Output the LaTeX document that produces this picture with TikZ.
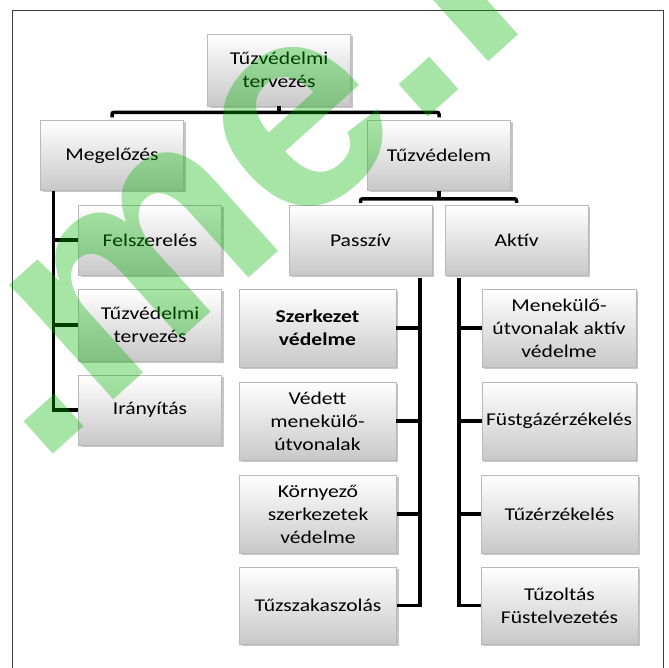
\documentclass[tikz,border=0pt]{standalone}
\usepackage{fontspec}
\setmainfont{Carlito}[FakeStretch=1.2]
\newfontfamily\wmfont{Liberation Sans}
\usetikzlibrary{positioning, shadows}
\definecolor{framegray}{RGB}{60,60,60}
\definecolor{boxline}{RGB}{185,185,185}
\definecolor{boxbottom}{RGB}{200,200,200}
\definecolor{wmgreen}{RGB}{0,180,0}

\begin{document}
\begin{tikzpicture}[x=1pt, y=-1pt,
    every node/.style={font=\fontsize{18}{23}\selectfont, align=center, inner sep=0pt},
    box/.style={rectangle, draw=boxline, top color=white, bottom color=boxbottom,
      drop shadow={shadow xshift=2pt, shadow yshift=-2pt, opacity=0.45}},
    upbox/.style={box, minimum width=143pt, minimum height=70pt},
    lowbox/.style={box, minimum width=157pt, minimum height=78pt},
    conn/.style={line width=3.5pt, black}]
    \useasboundingbox (0,0) rectangle (668,668);
    \draw[framegray, line width=1pt] (12,11) rectangle (663,700);

    % first two levels
    \node[upbox, minimum height=72pt] (tervez) at (279, 70) {Tűzvédelmi\\tervezés};
    \node[upbox] (megel) at (112, 155.5) {Megelőzés};
    \node[upbox] (tuzved) at (439, 155.5) {Tűzvédelem};
    \node[upbox] (passziv) at (360.5, 240) {Passzív};
    \node[upbox] (aktiv) at (516.5, 240) {Aktív};

    % Megelőzés branch
    \node[upbox] (felsz) at (150, 240) {Felszerelés};
    \node[upbox, minimum height=72pt] (tervez2) at (150, 325) {Tűzvédelmi\\tervezés};
    \node[upbox] (iranyit) at (150, 410) {Irányítás};

    % Passzív branch
    \node[lowbox] (szerk) at (317.5, 328) {\bfseries Szerkezet\\\bfseries védelme};
    \node[lowbox] (vedett) at (317.5, 421) {Védett\\menekülő-\\útvonalak};
    \node[lowbox] (kornyezo) at (318, 514) {Környező\\szerkezetek\\védelme};
    \node[lowbox, minimum height=77pt] (tuzszak) at (318, 605.5) {Tűzszakaszolás};

    % Aktív branch
    \node[lowbox, minimum width=154pt] (menek) at (559, 328) {Menekülő-\\útvonalak aktív\\védelme};
    \node[lowbox, minimum width=154pt] (fustgaz) at (559, 421) {Füstgázérzékelés};
    \node[lowbox] (tuzerz) at (559.5, 514) {Tűzérzékelés};
    \node[lowbox, minimum height=77pt] (tuzolt) at (559.5, 605.5) {Tűzoltás\\Füstelvezetés};

    % brackets
    \coordinate (b1) at ([yshift=8pt]megel.north);
    \draw[conn, rounded corners=2pt] ([yshift=3pt]megel.north) -- (b1) -| ([yshift=3pt]tuzved.north);
    \draw[conn] (tervez.south) -- (tervez.south |- b1);
    \coordinate (b2) at ([yshift=6pt]passziv.north);
    \draw[conn, rounded corners=2pt] ([yshift=2pt]passziv.north) -- (b2) -| ([yshift=2pt]aktiv.north);
    \draw[conn] (tuzved.south) -- (tuzved.south |- b2);

    % side trees
    \coordinate (ltop) at ([xshift=13pt]megel.south west);
    \draw[conn] (ltop) |- (iranyit.west);
    \draw[conn] (ltop |- felsz.west) -- (felsz.west);
    \draw[conn] (ltop |- tervez2.west) -- (tervez2.west);

    \coordinate (ptop) at ([xshift=-12pt, yshift=-3pt]passziv.south east);
    \draw[conn] (ptop) |- (tuzszak.east);
    \foreach \n in {szerk, vedett, kornyezo}
      \draw[conn] (ptop |- \n.east) -- (\n.east);

    \coordinate (atop) at ([xshift=14pt, yshift=-3pt]aktiv.south west);
    \draw[conn] (atop) |- (tuzolt.west);
    \foreach \n in {menek, fustgaz, tuzerz}
      \draw[conn] (atop |- \n.west) -- (\n.west);

    % watermark
    \node[font=\wmfont\bfseries\fontsize{293}{293}\selectfont, text=wmgreen, opacity=0.35,
      rotate=42, anchor=base west] (wm) at (38, 468) {.me.h};
\end{tikzpicture}
\end{document}
